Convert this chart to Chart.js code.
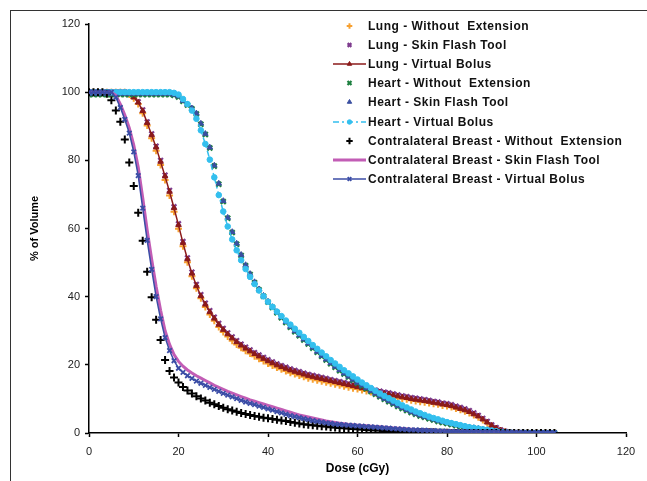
<!DOCTYPE html>
<html>
<head>
<meta charset="utf-8">
<script src="https://cdn.jsdelivr.net/npm/chart.js@4.4.1/dist/chart.umd.min.js"></script>
<style>
    body { margin: 0; background: #fff; }
    #wrap { position: relative; width: 647px; height: 481px; overflow: hidden; }
    #frame { position: absolute; left: 10px; top: 10px; width: 700px; height: 600px;
             border-top: 1px solid #333; border-left: 1px solid #333; }
    #legend { position: absolute; left: 333px; top: 16px; font-family: Arial, 'Liberation Sans', sans-serif;
              font-size: 12px; font-weight: bold; color: #111; letter-spacing: 0.5px; }
    .legend-item { height: 19.2px; display: flex; align-items: center; white-space: nowrap; }
    .legend-item canvas { width: 33px; height: 12px; margin-right: 2px; }
</style>
</head>
<body>
<div id="wrap">
    <div id="frame"></div>
    <canvas id="chart" width="647" height="481"></canvas>
    <div id="legend"></div>
</div>
<script>
// Dose (cGy)
const DOSE = [0,1,2,3,4,5,6,7,8,9,10,11,12,13,14,15,16,17,18,19,20,21,22,23,24,25,26,27,28,29,30,31,32,33,34,35,36,37,38,39,40,41,42,43,44,45,46,47,48,49,50,51,52,53,54,55,56,57,58,59,60,61,62,63,64,65,66,67,68,69,70,71,72,73,74,75,76,77,78,79,80,81,82,83,84,85,86,87,88,89,90,91,92,93,94,95,96,97,98,99,100,101,102,103,104]

// -- Lung --
const LUNG_WE = [100,100,100,100,100,100,100,100,100,99.3,98.2,96.5,93.8,90.2,86.5,82.8,78.6,74.2,69.7,64.9,59.9,54.8,50.1,46.0,42.5,39.5,37.0,34.8,32.9,31.1,29.6,28.3,27.1,26.0,25.0,24.1,23.3,22.5,21.8,21.1,20.4,19.8,19.2,18.7,18.2,17.7,17.3,16.9,16.5,16.1,15.8,15.5,15.2,14.9,14.6,14.3,14.0,13.7,13.4,13.1,12.9,12.6,12.3,12.0,11.7,11.4,11.1,10.9,10.6,10.3,10.1,9.9,9.6,9.4,9.2,9.0,8.8,8.6,8.4,8.1,7.9,7.6,7.2,6.8,6.4,5.9,5.3,4.6,3.8,2.9,2.0,1.3,0.7,0.3,0.1,0,0,0,0,0,0,0,0,0,0]
const LUNG_SFT = [100,100,100,100,100,100,100,100,100,99.6,98.7,97.2,94.8,91.3,87.8,84.2,80.0,75.7,71.2,66.4,61.4,56.2,51.4,47.2,43.6,40.6,38.1,35.9,34.0,32.2,30.7,29.4,28.2,27.1,26.1,25.2,24.4,23.6,22.9,22.2,21.5,20.9,20.3,19.8,19.3,18.8,18.4,18.0,17.6,17.2,16.9,16.6,16.3,16.0,15.7,15.4,15.1,14.8,14.5,14.2,13.9,13.6,13.3,13.0,12.6,12.3,12.0,11.8,11.5,11.2,10.9,10.7,10.4,10.2,10.0,9.8,9.6,9.3,9.1,8.8,8.6,8.3,7.9,7.5,7.1,6.6,5.9,5.2,4.3,3.4,2.4,1.6,0.9,0.5,0.2,0,0,0,0,0,0,0,0,0,0]
const LUNG_VB = [100,100,100,100,100,100,100,100,100,99.5,98.5,97.0,94.5,91.0,87.4,83.8,79.6,75.3,70.8,66.0,61.0,55.8,51.0,46.8,43.2,40.2,37.7,35.5,33.6,31.8,30.3,29.0,27.8,26.7,25.7,24.8,24.0,23.2,22.5,21.8,21.1,20.5,19.9,19.4,18.9,18.4,18.0,17.6,17.2,16.8,16.5,16.2,15.9,15.6,15.3,15.0,14.7,14.4,14.1,13.8,13.5,13.2,12.9,12.6,12.2,11.9,11.6,11.4,11.1,10.8,10.5,10.3,10.0,9.8,9.6,9.4,9.2,8.9,8.7,8.4,8.2,7.9,7.5,7.1,6.7,6.2,5.5,4.9,4.0,3.1,2.2,1.4,0.8,0.4,0.1,0,0,0,0,0,0,0,0,0,0]

// -- Heart --
const HEART_WE = [99.3,99.3,99.3,99.3,99.3,99.3,99.3,99.3,99.3,99.3,99.3,99.3,99.3,99.3,99.3,99.3,99.3,99.3,99.3,99.1,98.6,97.3,96.2,95.1,93.6,90.6,87.6,83.6,78.3,73.0,67.9,63.0,58.8,55.4,52.1,49.1,46.5,44.1,42.0,40.1,38.4,36.8,35.3,33.8,32.4,31.0,29.7,28.5,27.3,26.1,24.9,23.7,22.5,21.4,20.3,19.3,18.3,17.3,16.4,15.5,14.6,13.8,13.0,12.2,11.4,10.6,9.9,9.2,8.5,7.8,7.2,6.6,6.0,5.5,5.0,4.6,4.2,3.8,3.4,3.1,2.8,2.5,2.2,1.9,1.7,1.5,1.3,1.1,0.9,0.7,0.5,0.4,0.2,0.1,0.1,0,0,0,0,0,0,0,0,0,0]
const HEART_SFT = [99.6,99.6,99.6,99.6,99.6,99.6,99.6,99.6,99.6,99.6,99.6,99.6,99.6,99.6,99.6,99.6,99.6,99.6,99.6,99.3,98.8,97.5,96.4,95.3,93.8,90.8,87.8,83.8,78.5,73.2,68.1,63.2,59.0,55.6,52.3,49.3,46.7,44.3,42.2,40.3,38.6,37.0,35.5,34.0,32.6,31.2,29.9,28.7,27.5,26.3,25.1,23.9,22.7,21.6,20.5,19.5,18.5,17.5,16.6,15.7,14.8,14.0,13.2,12.4,11.6,10.8,10.1,9.4,8.7,8.0,7.4,6.8,6.2,5.7,5.2,4.8,4.4,4.0,3.6,3.3,3.0,2.7,2.4,2.1,1.9,1.7,1.5,1.3,1.1,0.9,0.7,0.5,0.3,0.2,0.1,0,0,0,0,0,0,0,0,0,0]
const HEART_VB = [100,100,100,100,100,100,100,100,100,100,100,100,100,100,100,100,100,100,100,99.8,99.3,98.0,96.5,94.6,92.2,88.8,84.8,80.2,75.0,69.8,65.0,60.6,56.8,53.6,50.7,48.1,45.8,43.7,41.8,40.1,38.5,37.0,35.6,34.3,33.0,31.8,30.6,29.4,28.2,27.0,25.8,24.7,23.6,22.5,21.4,20.4,19.4,18.4,17.5,16.6,15.7,14.8,14.0,13.2,12.4,11.6,10.9,10.2,9.5,8.8,8.1,7.5,6.9,6.3,5.8,5.3,4.8,4.4,4.0,3.6,3.2,2.9,2.6,2.3,2.0,1.7,1.5,1.3,1.1,0.9,0.7,0.5,0.3,0.2,0.1,0,0,0,0,0,0,0,0,0,0]

// -- Contralateral Breast --
const BREAST_WE = [100,100,100,100,99.5,97.6,94.6,91.3,86.1,79.4,72.5,64.6,56.4,47.3,39.8,33.2,27.3,21.4,18.2,16.3,14.8,13.5,12.5,11.6,10.8,10.1,9.5,8.9,8.4,7.9,7.4,7.0,6.6,6.2,5.9,5.6,5.3,5.0,4.8,4.5,4.3,4.1,3.9,3.7,3.5,3.2,3.0,2.8,2.6,2.4,2.3,2.1,2.0,1.9,1.7,1.6,1.5,1.4,1.3,1.2,1.1,1.0,0.9,0.8,0.8,0.7,0.6,0.6,0.5,0.5,0.4,0.4,0.3,0.3,0.3,0.2,0.2,0.2,0.1,0.1,0.1,0,0,0,0,0,0,0,0,0,0,0,0,0,0,0,0,0,0,0,0,0,0,0,0]
const BREAST_SFT = [100,100,100,100,100,100,99.0,96.5,93.3,89.5,84.5,78.0,69.0,59.5,51.0,43.0,36.0,30.0,26.0,23.0,21.0,19.6,18.5,17.6,16.8,16.1,15.4,14.7,14.0,13.4,12.8,12.2,11.7,11.2,10.7,10.2,9.7,9.3,8.9,8.5,8.1,7.7,7.3,6.9,6.5,6.1,5.7,5.3,5.0,4.7,4.4,4.1,3.8,3.5,3.3,3.1,2.9,2.7,2.5,2.4,2.3,2.2,2.1,2.0,1.9,1.8,1.7,1.6,1.5,1.4,1.3,1.2,1.1,1.0,0.9,0.9,0.8,0.8,0.7,0.7,0.6,0.6,0.5,0.5,0.5,0.4,0.4,0.4,0.3,0.3,0.3,0.3,0.2,0.2,0.2,0.2,0.2,0.1,0.1,0.1,0.1,0.1,0.1,0.1,0.1]
const BREAST_VB = [100,100,100,100,100,100,98.5,95.5,92.0,88.0,82.5,75.5,66.0,56.5,48.0,40.0,33.5,28.0,24.2,21.2,19.0,17.8,16.8,16.0,15.2,14.6,14.0,13.4,12.8,12.2,11.6,11.1,10.6,10.1,9.6,9.1,8.7,8.3,7.9,7.5,7.1,6.7,6.3,5.9,5.5,5.1,4.8,4.5,4.2,3.9,3.6,3.4,3.2,3.0,2.8,2.6,2.5,2.4,2.3,2.2,2.1,2.0,1.9,1.8,1.7,1.6,1.5,1.4,1.3,1.2,1.1,1.0,0.9,0.9,0.8,0.8,0.7,0.7,0.6,0.6,0.5,0.5,0.5,0.4,0.4,0.4,0.4,0.3,0.3,0.3,0.3,0.3,0.2,0.2,0.2,0.2,0.2,0.2,0.1,0.1,0.1,0.1,0.1,0.1,0.1]

const FONT = "Arial, 'Liberation Sans', sans-serif"

// name, values, color, line?, point style, radius, dash, line width, marker stroke
const SERIES = [
    ['Lung - Without  Extension',                 LUNG_WE,    '#F7A030', false, 'cross',    3.5, null,      0,   2],
    ['Lung - Skin Flash Tool',                    LUNG_SFT,   '#7E3C8E', false, 'crossRot', 3.3, null,      0,   2.2],
    ['Lung - Virtual Bolus',                      LUNG_VB,    '#8B1A1A', true,  'triangle', 3.2, null,      1.5, 1],
    ['Heart - Without  Extension',                HEART_WE,   '#1E8040', false, 'crossRot', 3.5, null,      0,   2.2],
    ['Heart - Skin Flash Tool',                   HEART_SFT,  '#3A4FA0', false, 'triangle', 3.2, null,      0,   1],
    ['Heart - Virtual Bolus',                     HEART_VB,   '#33BFEE', true,  'circle',   2.8, [6,3,2,3], 1.5, 1],
    ['Contralateral Breast - Without  Extension', BREAST_WE,  '#000000', false, 'cross',    4,   null,      0,   2],
    ['Contralateral Breast - Skin Flash Tool',    BREAST_SFT, '#C25DB5', true,  false,      0,   null,      3,   1],
    ['Contralateral Breast - Virtual Bolus',      BREAST_VB,  '#3B4DA6', true,  'crossRot', 3.2, null,      1.5, 1.8]
]

const datasets = SERIES.map((s, i) => ({
    label: s[0],
    data: DOSE.map((d, k) => ({ x: d, y: s[1][k] })),
    showLine: s[3],
    borderColor: s[2],
    backgroundColor: s[2],
    borderWidth: s[7],
    borderDash: s[6] || [],
    pointStyle: s[4],
    pointRadius: s[5],
    pointBorderWidth: s[8],
    pointBorderColor: s[2],
    pointBackgroundColor: s[2],
    tension: 0,
    order: SERIES.length - i
}))

const tickFont = { family: FONT, size: 11 }

new Chart(document.getElementById('chart'), {
    type: 'scatter',
    data: { datasets },
    options: {
        responsive: false,
        animation: false,
        layout: { padding: { left: 10, top: 24, right: 21, bottom: 0 } },
        plugins: { legend: { display: false }, tooltip: { enabled: false } },
        scales: {
            x: {
                type: 'linear', min: 0, max: 120,
                ticks: { stepSize: 20, color: '#222', font: tickFont, padding: 8 },
                grid: { drawOnChartArea: false, tickLength: 4, color: '#000', tickWidth: 1.5 },
                border: { color: '#000', width: 1.5 },
                title: { display: true, text: 'Dose (cGy)', color: '#000',
                         font: { family: FONT, size: 12, weight: 'bold' }, padding: { top: 0, bottom: 5 } },
                afterFit: s => { s.height = 48 }
            },
            y: {
                min: 0, max: 120,
                ticks: { stepSize: 20, color: '#222', font: tickFont, padding: 5 },
                grid: { drawOnChartArea: false, tickLength: 4, color: '#000', tickWidth: 1.5 },
                border: { color: '#000', width: 1.5 },
                title: { display: true, text: '% of Volume', color: '#000',
                         font: { family: FONT, size: 11, weight: 'bold' }, padding: { top: 18, bottom: 0 } },
                afterFit: s => { s.width = 79 }
            }
        }
    }
})

// -- Légende --
const legendEl = document.getElementById('legend')
SERIES.forEach(s => {
    const row = document.createElement('div')
    row.className = 'legend-item'
    const cv = document.createElement('canvas')
    cv.width = 33
    cv.height = 12
    const ctx = cv.getContext('2d')
    ctx.strokeStyle = s[2]
    ctx.fillStyle = s[2]
    if (s[3]) {
        ctx.lineWidth = s[7]
        ctx.setLineDash(s[6] || [])
        ctx.beginPath()
        ctx.moveTo(0, 6)
        ctx.lineTo(33, 6)
        ctx.stroke()
        ctx.setLineDash([])
    }
    if (s[4]) {
        ctx.lineWidth = s[8]
        Chart.helpers.drawPoint(ctx, { pointStyle: s[4], radius: s[5] * 0.8, rotation: 0, borderWidth: s[8] }, 16.5, 6)
    }
    const span = document.createElement('span')
    span.textContent = s[0]
    span.style.whiteSpace = 'pre'
    row.appendChild(cv)
    row.appendChild(span)
    legendEl.appendChild(row)
})
</script>
</body>
</html>
